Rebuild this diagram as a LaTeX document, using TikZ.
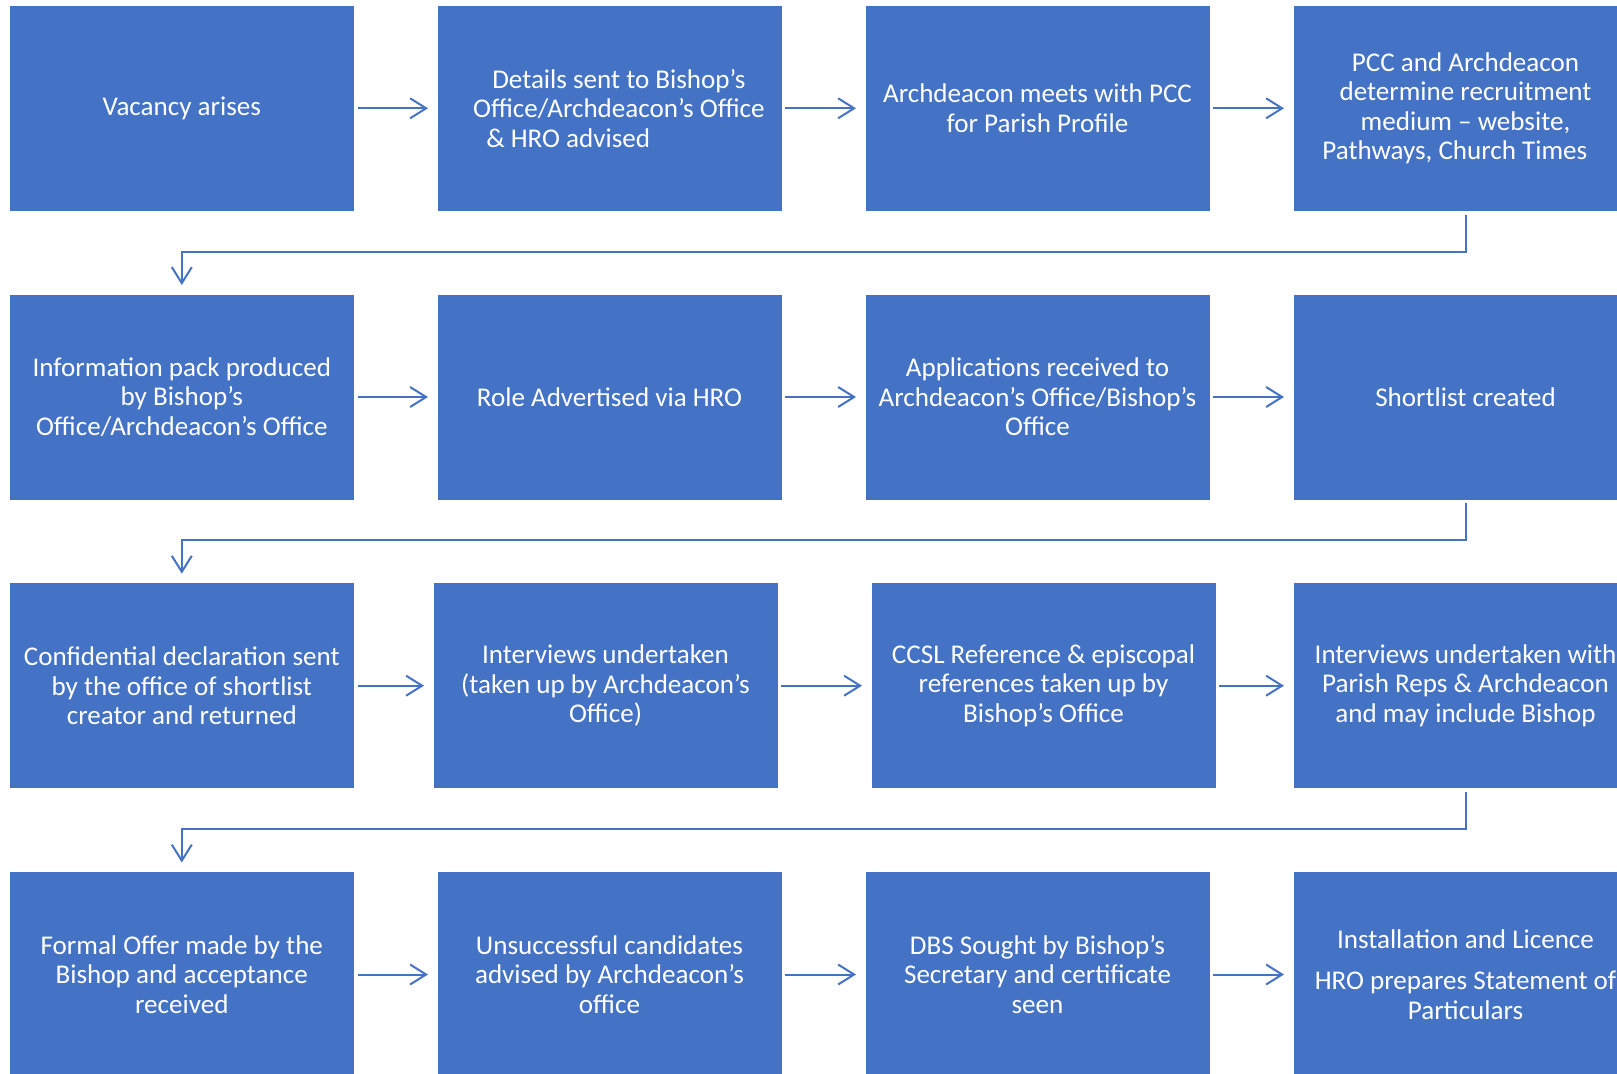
\documentclass[tikz,border=0pt]{standalone}
\usepackage{fontspec}
\setmainfont{Carlito}
\usepackage{tikz}
\usetikzlibrary{arrows.meta}
\definecolor{boxblue}{HTML}{4472C4}

\begin{document}
\begin{tikzpicture}[
  x=0.75pt, y=-0.75pt,
  stagebox/.style={rectangle, anchor=north west, fill=boxblue, draw=white, line width=0.6pt,
    minimum width=258.75pt, minimum height=154.5pt, inner sep=0pt, outer sep=0pt,
    align=center, text=white, font=\fontsize{20.3pt}{22pt}\selectfont},
  flow/.style={draw=boxblue, line width=1.5pt, -{Straight Barb[length=12pt,width=15pt]},
    shorten <=2.5pt, shorten >=6.75pt},
]
\useasboundingbox (0,0) rectangle (1617,1074);
\clip (0,0) rectangle (1617,1074);

% --- Row 1 ---
\node[stagebox] (vacancy) at (9.3, 5.3) {Vacancy arises};
\node[stagebox] (details) at (437, 5.3) {\hspace*{14pt}Details sent to Bishop’s\\\hspace*{14pt}Office/Archdeacon’s Office\\\hspace*{0pt}\& HRO advised\hspace*{62pt}};
\node[stagebox] (profile) at (865, 5.3) {Archdeacon meets with PCC\\for Parish Profile};
\node[stagebox] (medium) at (1293, 5.3) {PCC and Archdeacon\\determine recruitment\\medium – website,\\\hspace*{0pt}Pathways, Church Times\hspace*{16pt}};

% --- Row 2 ---
\node[stagebox] (pack) at (9.3, 294) {Information pack produced\\by Bishop’s\\Office/Archdeacon’s Office};
\node[stagebox] (advert) at (437, 294) {Role Advertised via HRO};
\node[stagebox] (applic) at (865, 294) {Applications received to\\Archdeacon’s Office/Bishop’s\\Office};
\node[stagebox] (shortlist) at (1293, 294) {Shortlist created};

% --- Row 3 ---
\node[stagebox] (declar) at (9.3, 582.7) {Confidential declaration sent\\by the office of shortlist\\creator and returned};
\node[stagebox] (interv) at (433, 582.7) {Interviews undertaken\\(taken up by Archdeacon’s\\Office)};
\node[stagebox] (refs) at (871, 582.7) {CCSL Reference \& episcopal\\references taken up by\\Bishop’s Office};
\node[stagebox] (parish) at (1293, 582.7) {Interviews undertaken with\\Parish Reps \& Archdeacon\\and may include Bishop};

% --- Row 4 ---
\node[stagebox] (offer) at (9.3, 871.5) {Formal Offer made by the\\Bishop and acceptance\\received};
\node[stagebox] (unsucc) at (437, 871.5) {Unsuccessful candidates\\advised by Archdeacon’s\\office};
\node[stagebox] (dbs) at (865, 871.5) {DBS Sought by Bishop’s\\Secretary and certificate\\seen};
\node[stagebox] (licence) at (1293, 871.5) {Installation and Licence\\[9pt]HRO prepares Statement of\\Particulars};

% --- Arrows along the rows ---
\draw[flow] (vacancy.east) -- (details.west);
\draw[flow] (details.east) -- (profile.west);
\draw[flow] (profile.east) -- (medium.west);
\draw[flow] (pack.east) -- (advert.west);
\draw[flow] (advert.east) -- (applic.west);
\draw[flow] (applic.east) -- (shortlist.west);
\draw[flow] (declar.east) -- (interv.west);
\draw[flow] (interv.east) -- (refs.west);
\draw[flow] (refs.east) -- (parish.west);
\draw[flow] (offer.east) -- (unsucc.west);
\draw[flow] (unsucc.east) -- (dbs.west);
\draw[flow] (dbs.east) -- (licence.west);

% --- Returns to the next row ---
\draw[flow] (medium.south) -- ++(0,41) -| (pack.north);
\draw[flow] (shortlist.south) -- ++(0,40) -| (declar.north);
\draw[flow] (parish.south) -- ++(0,40) -| (offer.north);

\end{tikzpicture}
\end{document}
